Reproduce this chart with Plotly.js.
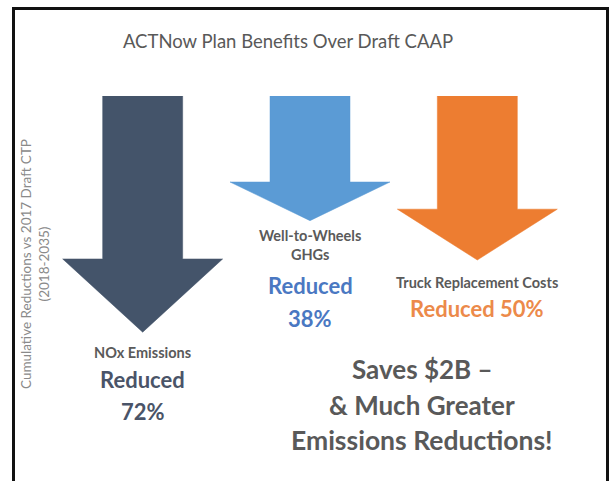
<!DOCTYPE html>
<html>
<head>
<meta charset="utf-8">
<script src="https://cdn.plot.ly/plotly-3.0.1.min.js"></script>
<style>
  html, body { margin: 0; padding: 0; background: #fff; }
  #wrap { position: relative; width: 616px; height: 481px; }
  #chart { width: 616px; height: 481px; }
  #frame {
    position: absolute; left: 12px; top: 7px; width: 591px; height: 500px;
    border: 3px solid #111; border-bottom: none; pointer-events: none;
  }
</style>
</head>
<body>
<div id="wrap">
  <div id="chart"></div>
  <div id="frame"></div>
</div>
<script>
// Data
const categories = ['NOx Emissions', 'Well-to-Wheels<br>GHGs', 'Truck Replacement Costs'];
const reductions = [72, 38, 50];
const arrowColors = ['#44546a', '#5b9bd5', '#ed7d31'];
const textColors = ['#4a5468', '#4a78c2', '#ec8a4a'];

// Arrow shape (in x units / fraction of length)
const shaftHalf = 0.239;
const headHalf = 0.478;
const headStart = 0.69;

// plot area in pixels
const M = { l: 59, r: 55, t: 96, b: 57 };
const PLOT_H = 481 - M.t - M.b;
const pyToPaper = py => 1 - (py - M.t) / PLOT_H;
const pxToPaper = px => (px - M.l) / (616 - M.l - M.r);

const traces = reductions.map((v, i) => {
    const h = -v * headStart;
    return {
        x: [i - shaftHalf, i + shaftHalf, i + shaftHalf, i + headHalf, i, i - headHalf, i - shaftHalf, i - shaftHalf],
        y: [0, 0, h, h, -v, h, h, 0],
        type: 'scatter',
        mode: 'lines',
        fill: 'toself',
        fillcolor: arrowColors[i],
        line: { color: arrowColors[i], width: 0.5 },
        hoverinfo: 'skip'
    };
});

const font = 'Lato, "Open Sans", sans-serif';
function ann(x, py, text, size, color) {
    return {
        x: x, y: pyToPaper(py), xref: 'x', yref: 'paper',
        text: '<b>' + text + '</b>',
        showarrow: false, xanchor: 'center', yanchor: 'middle',
        font: { family: font, size: size, color: color }
    };
}

const labelColor = '#5a5a5a';
const noteColor = '#595959';
const annotations = [
    // NOx
    ann(0, 352, categories[0], 14.5, labelColor),
    ann(0, 379, 'Reduced', 22, textColors[0]),
    ann(0, 411, reductions[0] + '%', 22, textColors[0]),
    // GHGs
    ann(1, 245, categories[1], 14.5, labelColor),
    ann(1, 285, 'Reduced', 22, textColors[1]),
    ann(1, 318, reductions[1] + '%', 22, textColors[1]),
    // Truck
    ann(2, 282, categories[2], 14.5, labelColor),
    ann(2, 308, 'Reduced ' + reductions[2] + '%', 22, textColors[2]),
    // Bottom note
    ann(1.67, 369, 'Saves $2B –', 26, noteColor),
    ann(1.67, 405, '& Much Greater', 26, noteColor),
    ann(1.67, 440, 'Emissions Reductions!', 26.5, noteColor),
    // Y axis title
    {
        x: pxToPaper(35), y: pyToPaper(264), xref: 'paper', yref: 'paper',
        xanchor: 'center', yanchor: 'middle',
        text: 'Cumulative Reductions vs 2017 Draft CTP<br>(2018-2035)',
        showarrow: false, textangle: -90,
        font: { family: font, size: 13.5, color: '#8a8a8a' }
    }
];

const layout = {
    width: 616, height: 481,
    margin: M,
    paper_bgcolor: '#ffffff',
    plot_bgcolor: '#ffffff',
    showlegend: false,
    title: {
        text: 'ACTNow Plan Benefits Over Draft CAAP',
        xref: 'container', yref: 'container',
        x: 288 / 616, y: 1 - 42 / 481,
        xanchor: 'center', yanchor: 'middle',
        font: { family: font, size: 18.5, color: '#595959' }
    },
    xaxis: { range: [-0.5, 2.5], visible: false, fixedrange: true },
    yaxis: { range: [-100, 0], visible: false, fixedrange: true },
    annotations: annotations
};

Plotly.newPlot('chart', traces, layout, { displayModeBar: false, staticPlot: true });
</script>
</body>
</html>
